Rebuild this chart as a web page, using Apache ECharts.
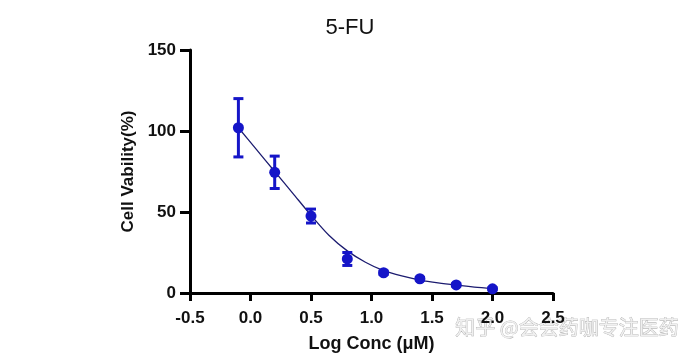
<!DOCTYPE html>
<html>
<head>
<meta charset="utf-8">
<script src="https://cdn.jsdelivr.net/npm/echarts@6/dist/echarts.min.js"></script>
<style>html,body{margin:0;padding:0;background:#fff;}#c{width:700px;height:364px;}</style>
</head>
<body>
<div id="c"></div>
<script>
// Measured data
var logConc   = [-0.1, 0.2, 0.5, 0.8, 1.1, 1.4, 1.7, 2.0];
var viability = [102, 74.5, 47.5, 21, 12.5, 8.8, 5, 2.6];
var sd        = [18, 10, 4.3, 4, 1, 0.8, 0.7, 0.6];
// Fitted curve
var fitX = [-0.1, 0.05, 0.2, 0.35, 0.5, 0.65, 0.8, 0.95, 1.1, 1.25, 1.4, 1.55, 1.7, 1.85, 2.0];
var fitY = [102, 88.5, 75, 61.5, 48, 35.5, 26, 19, 13.8, 10.5, 8, 6.2, 4.8, 3.6, 2.7];
var xTicks = ['-0.5', '0.0', '0.5', '1.0', '1.5', '2.0', '2.5'];
var yTicks = ['0', '50', '100', '150'];
var titleText = '5-FU';
var xName = 'Log Conc (μM)';
var yName = 'Cell Vability(%)';
var watermark = '知乎 @会会药咖专注医药';

var blue = '#1515c8';
var chart = echarts.init(document.getElementById('c'));
var pts = logConc.map(function (x, i) { return [x, viability[i]]; });
var errs = logConc.map(function (x, i) { return [x, viability[i] - sd[i], viability[i] + sd[i]]; });
var fit = fitX.map(function (x, i) { return [x, fitY[i]]; });

chart.setOption({
  animation: false,
  title: {
    text: titleText, left: 345, top: 12, textAlign: 'center',
    textStyle: { fontFamily: 'Liberation Sans, Arial', fontWeight: 'normal', fontSize: 22, color: '#111' }
  },
  grid: { left: 190, right: 147, top: 50, bottom: 71 },
  xAxis: {
    type: 'value', min: -0.5, max: 2.5, interval: 0.5,
    name: xName, nameLocation: 'middle', nameGap: 42,
    nameTextStyle: { fontFamily: 'Liberation Sans, Arial', fontWeight: 'bold', fontSize: 18, color: '#111' },
    axisLine: { onZero: false, lineStyle: { color: '#000', width: 3 } },
    axisTick: { length: 8, lineStyle: { color: '#000', width: 3 } },
    axisLabel: {
      margin: 17, fontFamily: 'Liberation Sans, Arial', fontWeight: 'bold', fontSize: 17, color: '#111',
      formatter: function (v) { var i = Math.round((v + 0.5) / 0.5); return xTicks[i]; }
    },
    splitLine: { show: false }
  },
  yAxis: {
    type: 'value', min: 0, max: 150, interval: 50,
    name: yName, nameLocation: 'middle', nameGap: 49, nameRotate: 90,
    nameTextStyle: { fontFamily: 'Liberation Sans, Arial', fontWeight: 'bold', fontSize: 17, color: '#111' },
    axisLine: { show: true, onZero: false, lineStyle: { color: '#000', width: 3 } },
    axisTick: { show: true, length: 10, lineStyle: { color: '#000', width: 3 } },
    axisLabel: {
      margin: 14, fontFamily: 'Liberation Sans, Arial', fontWeight: 'bold', fontSize: 17, color: '#111',
      formatter: function (v) { return yTicks[Math.round(v / 50)]; }
    },
    splitLine: { show: false }
  },
  graphic: [{
    type: 'text', left: 455, top: 317, silent: true,
    style: {
      text: watermark, fontFamily: 'Noto Sans CJK SC', fontSize: 20,
      fill: '#f0f0f0', stroke: '#a8a8a8', lineWidth: 0.7
    }
  }],
  series: [
    {
      type: 'line', data: fit, smooth: 0.3, symbol: 'none',
      lineStyle: { color: '#1c1c70', width: 1.3 }, z: 2
    },
    {
      type: 'custom', data: errs, z: 3,
      renderItem: function (params, api) {
        var x = api.value(0);
        var lo = api.coord([x, api.value(1)]);
        var hi = api.coord([x, api.value(2)]);
        var hw = 5;
        var st = { stroke: blue, lineWidth: 3 };
        return {
          type: 'group', children: [
            { type: 'line', shape: { x1: lo[0], y1: lo[1], x2: hi[0], y2: hi[1] }, style: st },
            { type: 'line', shape: { x1: lo[0] - hw, y1: lo[1], x2: lo[0] + hw, y2: lo[1] }, style: st },
            { type: 'line', shape: { x1: hi[0] - hw, y1: hi[1], x2: hi[0] + hw, y2: hi[1] }, style: st }
          ]
        };
      }
    },
    {
      type: 'scatter', data: pts, symbol: 'circle', symbolSize: 11,
      itemStyle: { color: blue, opacity: 1 }, z: 4
    }
  ]
});
</script>
</body>
</html>
